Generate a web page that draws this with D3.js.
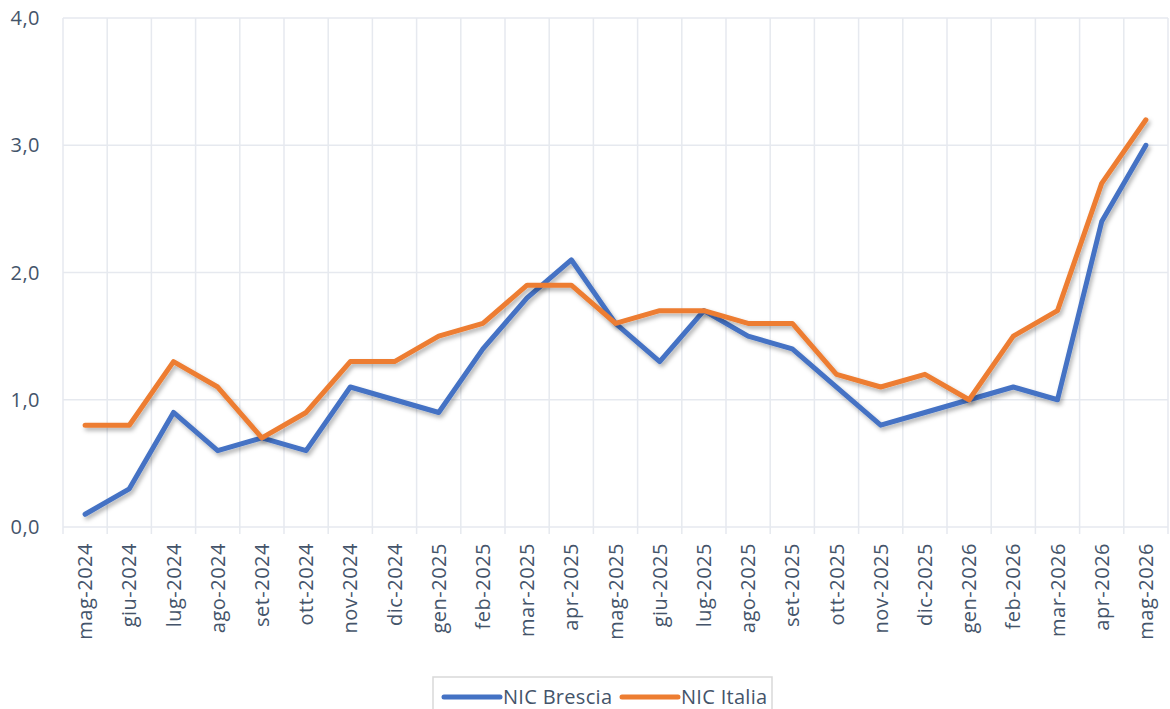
<!DOCTYPE html>
<html>
<head>
<meta charset="utf-8">
<script src="https://cdn.jsdelivr.net/npm/d3@7"></script>
<style>
  body { margin: 0; background: #fff; }
  svg { display: block; font-family: 'Open Sans', sans-serif; }
</style>
</head>
<body>
<div id="chart-container"></div>
<script>
// Categories and series
const months = ['mag-2024', 'giu-2024', 'lug-2024', 'ago-2024', 'set-2024', 'ott-2024', 'nov-2024', 'dic-2024',
  'gen-2025', 'feb-2025', 'mar-2025', 'apr-2025', 'mag-2025', 'giu-2025', 'lug-2025', 'ago-2025', 'set-2025',
  'ott-2025', 'nov-2025', 'dic-2025', 'gen-2026', 'feb-2026', 'mar-2026', 'apr-2026', 'mag-2026']
const brescia = [0.1, 0.3, 0.9, 0.6, 0.7, 0.6, 1.1, 1.0, 0.9, 1.4, 1.8, 2.1, 1.6, 1.3, 1.7, 1.5, 1.4, 1.1, 0.8, 0.9, 1.0, 1.1, 1.0, 2.4, 3.0]
const italia = [0.8, 0.8, 1.3, 1.1, 0.7, 0.9, 1.3, 1.3, 1.5, 1.6, 1.9, 1.9, 1.6, 1.7, 1.7, 1.6, 1.6, 1.2, 1.1, 1.2, 1.0, 1.5, 1.7, 2.7, 3.2]
const yTicks = [0, 1, 2, 3, 4]
const seriesNames = ['NIC Brescia', 'NIC Italia']
const colors = ['#4472C4', '#ED7D31']

const W = 1170, H = 709
const margin = { top: 18, right: 2, bottom: 182, left: 63 }
const width = W - margin.left - margin.right
const height = H - margin.top - margin.bottom
const textColor = '#44546A'
const gridColor = '#E6E9EF'

const svg = d3.select('#chart-container').append('svg').attr('width', W).attr('height', H)

const defs = svg.append('defs')
const f = defs.append('filter').attr('id', 'shadow').attr('x', '-5%').attr('y', '-5%').attr('width', '110%').attr('height', '120%')
f.append('feDropShadow').attr('dx', 2).attr('dy', 3).attr('stdDeviation', 2)
  .attr('flood-color', '#000').attr('flood-opacity', 0.3)

const g = svg.append('g').attr('transform', `translate(${margin.left},${margin.top})`)

const x = d3.scaleBand().domain(months).range([0, width])
const y = d3.scaleLinear().domain([0, 4]).range([height, 0])

// Horizontal gridlines
g.append('g').selectAll('line').data(yTicks).enter().append('line')
  .attr('x1', 0).attr('x2', width)
  .attr('y1', (d) => y(d)).attr('y2', (d) => y(d))
  .attr('stroke', gridColor).attr('stroke-width', 1.5)

// Vertical gridlines at category boundaries
const bounds = months.map((m) => x(m)).concat([width])
g.append('g').selectAll('line').data(bounds).enter().append('line')
  .attr('x1', (d) => d).attr('x2', (d) => d)
  .attr('y1', 0).attr('y2', height + 7)
  .attr('stroke', gridColor).attr('stroke-width', 1.5)

// Y axis labels
const fmt = (v) => d3.format('.1f')(v).replace('.', ',')
g.append('g').selectAll('text').data(yTicks).enter().append('text')
  .attr('x', -23).attr('y', (d) => y(d))
  .attr('dy', '0.35em')
  .attr('text-anchor', 'end')
  .attr('fill', textColor)
  .style('font-size', '20px')
  .style('letter-spacing', '0.5px')
  .text(fmt)

// X axis labels (rotated)
g.append('g').selectAll('text').data(months).enter().append('text')
  .attr('transform', (d) => `translate(${x(d) + x.bandwidth() / 2},${height + 16}) rotate(-90)`)
  .attr('dy', '0.35em')
  .attr('text-anchor', 'end')
  .attr('fill', textColor)
  .style('font-size', '20px')
  .style('letter-spacing', '0.5px')
  .text((d) => d)

// Lines
const line = d3.line()
  .x((d, i) => x(months[i]) + x.bandwidth() / 2)
  .y((d) => y(d))

;[brescia, italia].forEach((s, i) => {
  g.append('path')
    .datum(s)
    .attr('fill', 'none')
    .attr('stroke', colors[i])
    .attr('stroke-width', 5)
    .attr('stroke-linejoin', 'round')
    .attr('stroke-linecap', 'round')
    .attr('filter', 'url(#shadow)')
    .attr('d', line)
})

// Legend
const legend = svg.append('g').attr('transform', 'translate(433,677)')
legend.append('rect').attr('x', 0).attr('y', 0).attr('width', 339).attr('height', 40)
  .attr('fill', '#fff').attr('stroke', '#D9D9D9').attr('stroke-width', 1.5)
const items = [{ x: 11, tx: 70 }, { x: 189, tx: 248 }]
seriesNames.forEach((name, i) => {
  legend.append('line')
    .attr('x1', items[i].x).attr('x2', items[i].x + 56)
    .attr('y1', 20).attr('y2', 20)
    .attr('stroke', colors[i]).attr('stroke-width', 5).attr('stroke-linecap', 'round')
  legend.append('text')
    .attr('x', items[i].tx).attr('y', 20).attr('dy', '0.35em')
    .attr('fill', textColor)
    .style('font-size', '20px')
    .style('letter-spacing', '0.3px')
    .text(name)
})
</script>
</body>
</html>
